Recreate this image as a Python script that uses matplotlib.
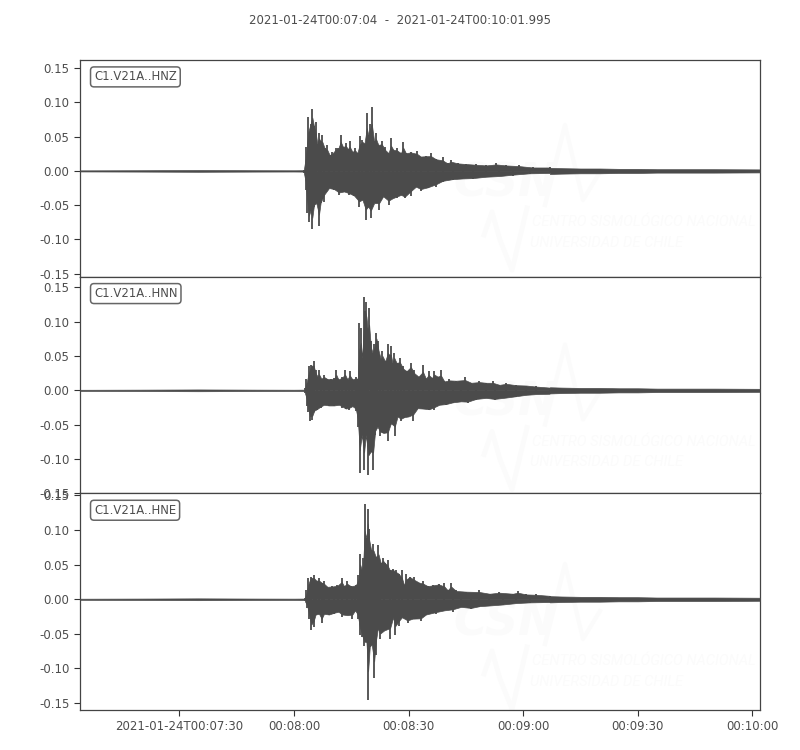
import numpy as np
import matplotlib
matplotlib.use("Agg")
import matplotlib.pyplot as plt

title = "2021-01-24T00:07:04  -  2021-01-24T00:10:01.995"
stations = ["C1.V21A..HNZ", "C1.V21A..HNN", "C1.V21A..HNE"]
y_limits = [(-0.1545, 0.162), (-0.15, 0.1655), (-0.16, 0.153)]
y_ticks = [-0.15, -0.10, -0.05, 0.0, 0.05, 0.10, 0.15]
x_ticks = ["2021-01-24T00:07:30", "2021-01-24T00:08:00", "2021-01-24T00:08:30",
           "2021-01-24T00:09:00", "2021-01-24T00:09:30", "2021-01-24T00:10:00"]
x_labels = ["2021-01-24T00:07:30", "00:08:00", "00:08:30", "00:09:00", "00:09:30", "00:10:00"]

# seconds after 00:08:00 / envelope amplitude
quiet_t = [-56, -40, -25, -10, 0, 2.6]
quiet_amp = [0.0008, 0.001, 0.0013, 0.001, 0.0009, 0.001]
tail_t = [67, 70, 75, 80, 85, 90, 95, 100, 110, 122]
tail_amp = [0.0045, 0.004, 0.0035, 0.0035, 0.003, 0.003, 0.0025, 0.0025, 0.0025, 0.0022]

z_up_t = [2.6, 3.06, 3.76, 4.37, 4.81, 5.25, 5.68, 6.12, 6.56, 7.0, 7.43, 8.05, 8.75, 9.36, 10.06, 10.93,
          11.63, 12.25, 12.86, 13.56, 14.17, 14.6, 15.3, 16.0, 16.6, 17.2, 17.9, 18.46, 19.07, 19.5, 19.86,
          20.38, 21.0, 21.5, 22.1, 23.0, 23.9, 24.75, 25.4, 26.0, 27.1, 28.0, 28.6, 29.3, 30.6, 32.2, 33.2,
          34.6, 35.9, 37.2, 38.9, 40.2, 41.1, 42.9, 45.1, 47.7, 50.3, 52.9, 55.5, 59, 62.5, 66.9]
z_up = [.002, .035, .079, .069, .091, .065, .072, .040, .055, .043, .052, .033, .038, .023, .028, .034,
        .033, .052, .035, .041, .032, .043, .028, .034, .026, .051, .045, .040, .085, .052, .069,
        .094, .043, .055, .038, .043, .035, .026, .048, .031, .033, .026, .042, .026, .028, .029, .021,
        .022, .026, .017, .020, .011, .016, .012, .010, .010, .008, .011, .008, .009, .005, .005]
z_low_t = [2.6, 3.06, 3.5, 3.93, 4.37, 4.81, 5.25, 5.86, 6.56, 7.0, 7.87, 9.18, 10.5, 11.8, 13.12, 14.43,
           15.75, 17.06, 17.93, 18.8, 19.42, 20.12, 21.0, 22.3, 23.36, 24.76, 25.8, 26.86, 28.0, 29.04, 30.6,
           31.93, 33.24, 35.0, 37.18, 38.93, 41.55, 44.18, 46.8, 50.3, 53.8, 57.3, 61.7, 66.9]
z_low = [.003, .028, .062, .074, .057, .085, .052, .047, .081, .047, .045, .025, .028, .035, .030, .035,
         .037, .052, .042, .071, .052, .069, .047, .057, .037, .050, .040, .040, .035, .040, .036,
         .023, .030, .025, .023, .016, .013, .011, .012, .009, .008, .007, .004, .003]

n_up_t = [2.88, 3.23, 3.93, 4.55, 5.16, 5.68, 6.21, 6.56, 7.17, 7.87, 8.75, 9.62, 10.5, 11.1, 11.63, 12.5,
          13.38, 14.0, 14.6, 15.3, 16.18, 16.7, 17.06, 17.5, 17.84, 18.28, 18.63, 18.98, 19.33, 19.68, 20.12,
          20.56, 21.0, 21.6, 22.13, 22.74, 23.18, 23.88, 24.58, 24.93, 25.37, 25.8, 26.24, 26.86, 27.73, 28.6,
          29.5, 30.6, 31.5, 32.6, 33.77, 34.55, 35.25, 36.13, 36.74, 37.6, 38.5, 39.37, 40.7, 42.43, 44.8,
          46.4, 48.55, 50.3, 52.05, 53.8, 55.55, 58.2, 60.8, 63.4, 66.9]
n_up = [.003, .017, .035, .037, .042, .030, .020, .030, .017, .022, .017, .016, .018, .029, .016, .020,
        .030, .016, .028, .016, .019, .017, .098, .091, .047, .136, .115, .128, .086, .120, .072,
        .055, .067, .084, .072, .045, .058, .042, .067, .052, .064, .040, .055, .040, .047, .035,
        .028, .040, .030, .020, .037, .017, .028, .018, .028, .020, .030, .013, .016, .014, .019,
        .011, .013, .011, .014, .008, .011, .008, .007, .007, .004]
n_low_t = [2.88, 3.41, 3.76, 4.2, 4.81, 5.33, 6.12, 7.0, 7.87, 9.18, 10.5, 11.8, 12.68, 13.56, 14.43, 15.3,
           16.18, 16.7, 17.23, 17.76, 18.37, 18.8, 19.5, 20.12, 20.73, 21.26, 21.87, 22.57, 23.44, 24.58, 25.37,
           26.42, 27.12, 28.0, 28.87, 30.0, 31.23, 32.37, 33.68, 35.43, 36.74, 38.05, 39.8, 41.55, 43.74, 45.49,
           47.68, 50.3, 52.5, 55.55, 58.2, 60.8, 63.4, 66.9]
n_low = [.004, .023, .031, .044, .043, .031, .028, .026, .021, .023, .023, .021, .026, .027, .028, .023,
         .030, .053, .121, .065, .116, .065, .124, .089, .116, .065, .053, .067, .062, .074, .048,
         .067, .038, .045, .040, .038, .044, .026, .027, .028, .028, .021, .021, .019, .016, .019,
         .014, .011, .014, .011, .010, .007, .006, .005]

e_up_t = [2.88, 3.23, 3.76, 4.37, 5.16, 5.86, 6.56, 7.26, 7.87, 8.75, 10.06, 11.37, 12.5, 13.12, 13.9, 14.87,
          16.18, 16.88, 17.32, 17.76, 18.1, 18.54, 18.98, 19.33, 19.68, 20.2, 20.82, 21.43, 22.13, 22.74, 23.36,
          23.88, 24.5, 25.1, 25.8, 26.68, 27.38, 28.26, 28.87, 29.3, 30.35, 31.5, 32.8, 33.86, 35.0, 36.3,
          37.88, 39.37, 40.24, 41.12, 42.43, 45.05, 48.55, 51.2, 53.8, 57.3, 58.6, 60.8, 63.4, 66.9]
e_up = [.002, .013, .030, .032, .035, .027, .030, .024, .027, .018, .019, .020, .031, .019, .026, .019,
        .021, .035, .066, .042, .059, .138, .088, .131, .102, .071, .080, .061, .078, .052, .059,
        .052, .056, .042, .044, .042, .037, .042, .020, .037, .032, .032, .024, .026, .019, .021,
        .022, .024, .013, .024, .013, .011, .013, .008, .011, .008, .012, .007, .008, .005]
e_low_t = [2.88, 3.41, 3.93, 4.55, 5.16, 5.68, 6.56, 7.26, 7.87, 9.18, 10.5, 11.63, 12.68, 14.0, 15.3, 16.0,
           16.7, 17.23, 17.93, 18.37, 18.98, 19.42, 19.86, 20.38, 21.0, 21.43, 21.96, 22.57, 23.62, 25.19, 25.98,
           26.5, 27.38, 28.26, 29.74, 31.06, 33.24, 34.55, 37.18, 39.37, 41.55, 43.74, 46.37, 48.55, 51.18, 54.68,
           58.2, 61.7, 66.9]
e_low = [.003, .013, .028, .045, .040, .023, .021, .035, .021, .023, .021, .018, .026, .023, .028, .016,
         .028, .052, .054, .068, .062, .146, .069, .066, .114, .081, .042, .057, .045, .057, .026,
         .052, .038, .026, .035, .028, .032, .023, .021, .016, .018, .011, .014, .011, .009, .009,
         .006, .005, .004]

channels = [(z_up_t, z_up, z_low_t, z_low), (n_up_t, n_up, n_low_t, n_low), (e_up_t, e_up, e_low_t, e_low)]

wave_color = "#4b4b4b"
text_color = "#4d4d4d"
mark_color = "#fbfbfb"


def to_time(seconds):
    ms = (np.array(seconds, dtype=float) * 1000).astype("int64")
    return np.datetime64("2021-01-24T00:08:00", "ms") + ms.astype("timedelta64[ms]")


def spiky(ax, t, amp, sign):
    # solid body a bit under the peaks, single strokes for the peaks themselves
    amp = np.array(amp)
    floor = np.array([amp[max(k - 1, 0):k + 2].min() for k in range(len(amp))])
    body = (floor + amp) / 2
    x = to_time(t)
    ax.fill_between(x, 0, sign * body, color=wave_color, lw=0.5, zorder=3)
    ax.vlines(x, 0, sign * amp, color=wave_color, lw=1.3, zorder=3)


def watermark(ax, dy):
    # faint logo behind each panel, positions in figure pixels
    trans = ax.figure.transFigure
    fx = lambda px: np.array(px) / 800
    fy = lambda py: 1 - (np.array(py) + dy) / 750
    ax.text(fx(505), fy(184), "CSN", transform=trans, color=mark_color, fontsize=33, fontweight="bold",
            fontstyle="italic", ha="center", va="center", zorder=1)
    ax.text(fx(532), fy(222), "CENTRO SISMOLÓGICO NACIONAL", transform=trans, color=mark_color, fontsize=10.5,
            fontstyle="italic", family="Roboto", va="center", zorder=1)
    ax.text(fx(530), fy(243), "UNIVERSIDAD DE CHILE", transform=trans, color=mark_color, fontsize=10.5,
            fontstyle="italic", family="Roboto", va="center", zorder=1)
    ax.plot(fx([545, 565, 583, 600]), fy([205, 125, 200, 172]), transform=trans, color=mark_color, lw=3, zorder=1)
    ax.plot(fx([484, 492, 500, 512, 527]), fy([235, 212, 240, 270, 208]), transform=trans, color=mark_color,
            lw=3.5, zorder=1)


fig, axes = plt.subplots(3, 1, figsize=(8, 7.5), dpi=100, sharex=True)
fig.subplots_adjust(left=0.1, right=0.95, top=0.92, bottom=0.0533, hspace=0)

for i, ax in enumerate(axes):
    up_t, up, low_t, low = channels[i]
    for t, amp in [(quiet_t, quiet_amp), (tail_t, tail_amp)]:
        ax.fill_between(to_time(t), -np.array(amp), np.array(amp), color=wave_color, lw=0.5, zorder=3)
    spiky(ax, up_t, up, 1)
    spiky(ax, low_t, low, -1)
    watermark(ax, i * 219.5)

    ax.set_ylim(*y_limits[i])
    ax.set_yticks(y_ticks)
    ax.set_yticklabels(["%.2f" % v for v in y_ticks])
    ax.text(0.0206, 0.922, stations[i], transform=ax.transAxes, color=text_color, fontsize=8.35, va="center",
            bbox=dict(boxstyle="round,pad=0.3", fc="white", ec="#666666", lw=1.1), zorder=5)
    ax.tick_params(colors=text_color, labelsize=8.5, length=4, width=0.8, color="#333333")
    for s in ax.spines.values():
        s.set_color("#444444")
        s.set_linewidth(0.9)

axes[-1].set_xlim(np.datetime64("2021-01-24T00:07:04"), np.datetime64("2021-01-24T00:10:01.995"))
axes[-1].set_xticks(np.array(x_ticks, dtype="datetime64[ms]"))
axes[-1].set_xticklabels(x_labels)
for ax in axes[:-1]:
    ax.tick_params(axis="x", length=0, labelbottom=False)

fig.text(0.5, 1 - 20.5 / 750, title, ha="center", va="center", fontsize=8.45, color=text_color)

fig.savefig("out.png", dpi=100)
